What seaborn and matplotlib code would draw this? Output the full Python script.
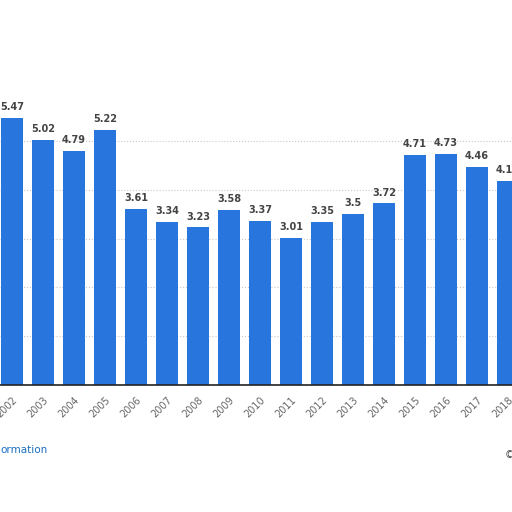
import matplotlib
matplotlib.use("Agg")
import matplotlib.pyplot as plt
import seaborn as sns
import pandas as pd

years = [str(y) for y in range(2002, 2019)]
values = [5.47, 5.02, 4.79, 5.22, 3.61, 3.34, 3.23, 3.58, 3.37, 3.01,
          3.35, 3.5, 3.72, 4.71, 4.73, 4.46, 4.18]
labels = ["5.47", "5.02", "4.79", "5.22", "3.61", "3.34", "3.23", "3.58", "3.37",
          "3.01", "3.35", "3.5", "3.72", "4.71", "4.73", "4.46", "4.18"]

df = pd.DataFrame({"year": years, "value": values})

sns.set_style("white")
plt.rcParams['font.family'] = ['DejaVu Sans']

fig = plt.figure(figsize=(5.12, 5.12), dpi=100)
# plot area runs past both edges of the picture
ax = fig.add_axes([0, 127 / 512, 1, 385 / 512])
sns.barplot(data=df, x="year", y="value", color="#2876dd", saturation=1,
            width=0.7, linewidth=0, ax=ax)

ax.set_xlim(-12 / 31, 16 + 4 / 31)
ax.set_ylim(0, 385 / 48.8)
ax.set_yticks([1, 2, 3, 4, 5])
ax.yaxis.grid(True, linestyle=":", color="#c8c8c8", linewidth=0.8)
ax.set_axisbelow(True)
ax.tick_params(axis="y", left=False, labelleft=False)
ax.tick_params(axis="x", length=0, pad=7, labelsize=7, labelcolor="#666666")
for lab in ax.get_xticklabels():
    lab.set_rotation(45)
    lab.set_ha("right")
    lab.set_rotation_mode("anchor")
ax.set_xlabel("")
ax.set_ylabel("")
for s in ["top", "left", "right"]:
    ax.spines[s].set_visible(False)
ax.spines["bottom"].set_color("#222222")
ax.spines["bottom"].set_linewidth(1.2)

for i, (v, t) in enumerate(zip(values, labels)):
    ax.text(i, v + 0.12, t, ha="center", va="bottom", fontsize=7,
            fontweight="bold", color="#444444")

fig.text(0.0, 62 / 512, "ormation", fontsize=7.5, color="#1a6fc0", va="center")
fig.text(0.985, 57 / 512, "©", fontsize=7, color="#444444", va="center")

fig.savefig("out.png", dpi=100)
